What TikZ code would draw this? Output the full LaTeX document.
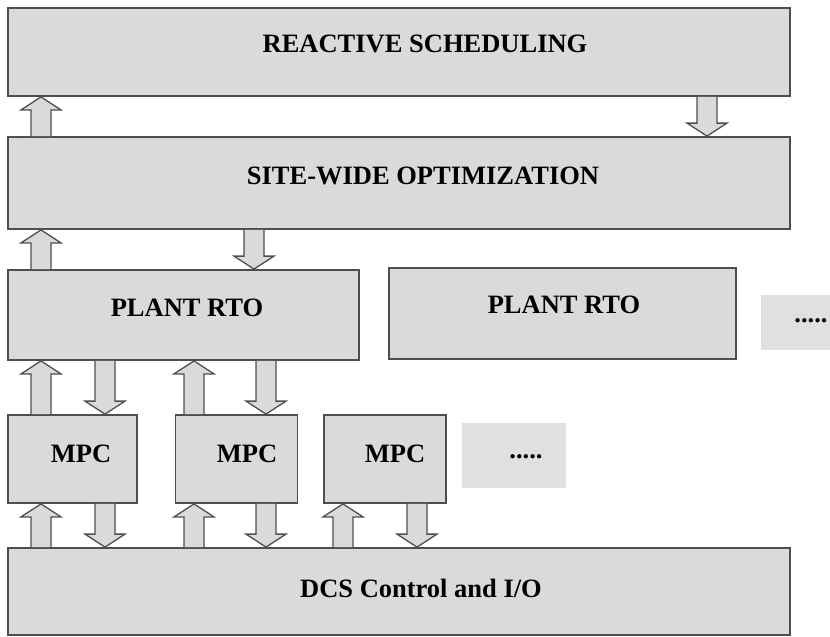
\documentclass[tikz,border=0pt]{standalone}
\usepackage{fontspec}
\setmainfont{Liberation Serif}
\usepackage{tikz}
\usetikzlibrary{positioning,calc}
\definecolor{boxgray}{RGB}{218,218,218}
\definecolor{dotgray}{RGB}{224,224,224}
\definecolor{edgegray}{RGB}{78,78,78}
% block arrows between two boxes, x in px
\newcommand{\uparr}[3]{\draw[ar] let \p1=(#2.north), \p2=(#3.south) in
  (#1pt-10pt,\y1) -- (#1pt-10pt,\y2-13pt) -- (#1pt-20pt,\y2-13pt) -- (#1pt,\y2)
  -- (#1pt+20pt,\y2-13pt) -- (#1pt+10pt,\y2-13pt) -- (#1pt+10pt,\y1);}
\newcommand{\dnarr}[3]{\draw[ar] let \p1=(#2.south), \p2=(#3.north) in
  (#1pt-10pt,\y1) -- (#1pt-10pt,\y2+13pt) -- (#1pt-20pt,\y2+13pt) -- (#1pt,\y2)
  -- (#1pt+20pt,\y2+13pt) -- (#1pt+10pt,\y2+13pt) -- (#1pt+10pt,\y1);}

\begin{document}
\begin{tikzpicture}[x=1pt,y=-1pt,
  bx/.style={rectangle,draw=edgegray,line width=1.8pt,fill=boxgray,inner sep=0pt},
  dt/.style={rectangle,fill=dotgray,inner sep=0pt},
  tx/.style={font=\fontsize{26.5}{30}\selectfont\bfseries,inner sep=0pt},
  ar/.style={draw=edgegray,line width=1.3pt,fill=boxgray}
]
\useasboundingbox (0,0) rectangle (830,637);
\node[bx,minimum width=782pt,minimum height=88pt] (rs)  at (399,52) {};
\node[bx,minimum width=782pt,minimum height=92pt] (sw)  at (399,183) {};
\node[bx,minimum width=351pt,minimum height=90pt] (pr1) at (183.5,315) {};
\node[bx,minimum width=347pt,minimum height=91pt] (pr2) at (562.5,313.5) {};
\node[dt,minimum width=70pt,minimum height=55pt]  (dt1) at (796,322.5) {};
\node[bx,minimum width=129pt,minimum height=88pt] (m1)  at (72.5,459) {};
\node[bx,minimum width=122pt,minimum height=88pt] (m2)  at (236.5,459) {};
\node[bx,minimum width=122pt,minimum height=88pt] (m3)  at (385,459) {};
\node[dt,minimum width=104pt,minimum height=65pt] (dt2) at (514,455) {};
\node[bx,minimum width=782pt,minimum height=87pt] (dcs) at (399,591.5) {};
\node[tx] (rst)  at (425,44)  {REACTIVE SCHEDULING};
\node[tx] (swt)  at (423,176) {SITE-WIDE OPTIMIZATION};
\node[tx] (pr1t) at (187,308) {PLANT RTO};
\node[tx] (pr2t) at (564,305) {PLANT RTO};
\node[tx] (dt1t) at (811,321) {.....};
\node[tx] (m1t)  at (81,454)  {MPC};
\node[tx] (m2t)  at (247,454) {MPC};
\node[tx] (m3t)  at (395,454) {MPC};
\node[tx] (dt2t) at (526,457) {.....};
\node[tx] (dcst) at (421,588) {DCS Control and I/O};
\uparr{41}{sw}{rs}   \dnarr{707}{rs}{sw}
\uparr{41}{pr1}{sw}  \dnarr{254}{sw}{pr1}
\uparr{41}{m1}{pr1}  \dnarr{105}{pr1}{m1}
\uparr{194}{m2}{pr1} \dnarr{266}{pr1}{m2}
\uparr{41}{dcs}{m1}  \dnarr{105}{m1}{dcs}
\uparr{194}{dcs}{m2} \dnarr{266}{m2}{dcs}
\uparr{343}{dcs}{m3} \dnarr{417}{m3}{dcs}
\end{tikzpicture}
\end{document}
